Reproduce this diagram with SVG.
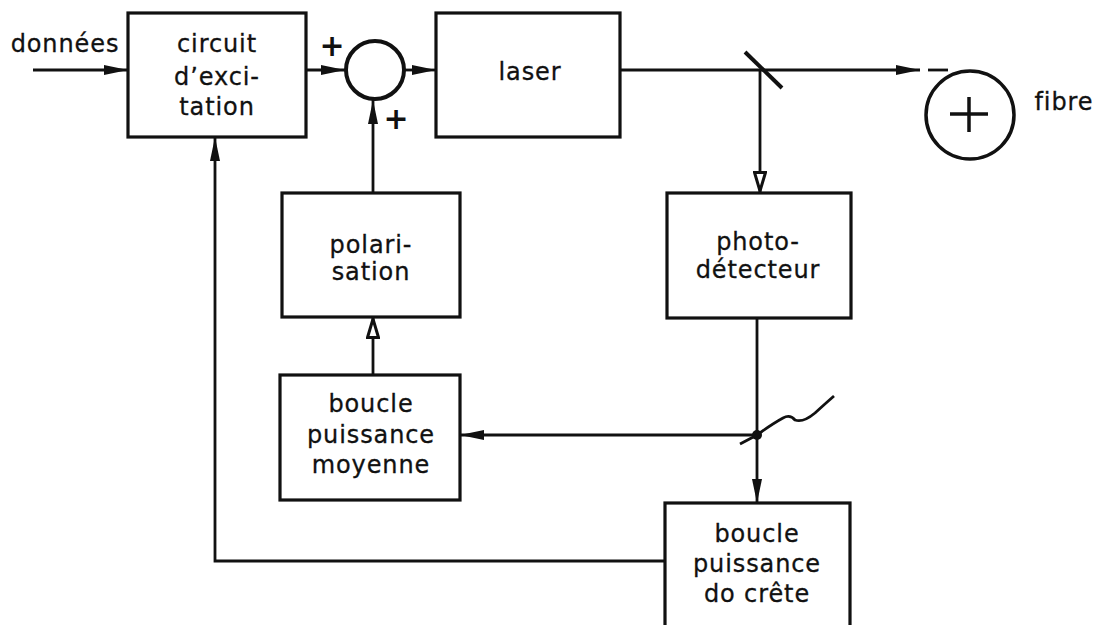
<svg xmlns="http://www.w3.org/2000/svg" width="1102" height="625" viewBox="0 0 1102 625">
<defs>
<marker id="arr" viewBox="0 0 24 12" refX="24" refY="6" markerWidth="24" markerHeight="12" markerUnits="userSpaceOnUse" orient="auto">
<path d="M0,1 L24,6 L0,11 Z" fill="#111"/>
</marker>
<marker id="open" viewBox="0 0 22 14" refX="21" refY="7" markerWidth="22" markerHeight="14" markerUnits="userSpaceOnUse" orient="auto">
<path d="M1.5,1.5 L20,7 L1.5,12.5 Z" fill="#fff" stroke="#111" stroke-width="3"/>
</marker>
</defs>
<style>
.box{fill:#fff;stroke:#111;stroke-width:3.2}
.ln{fill:none;stroke:#111;stroke-width:2.8}
.t{font-family:"DejaVu Sans","Liberation Sans",sans-serif;font-size:24px;fill:#111;text-anchor:middle;letter-spacing:0.9px;stroke:#111;stroke-width:0.3}
.p{font-family:"DejaVu Sans","Liberation Sans",sans-serif;font-size:30px;font-weight:bold;fill:#111;text-anchor:middle}
</style>
<rect width="1102" height="625" fill="#fff"/>
<g id="connectors">
<line class="ln" x1="33" y1="70" x2="128" y2="70" marker-end="url(#arr)"/>
<line class="ln" x1="306" y1="70" x2="345" y2="70" marker-end="url(#arr)"/>
<line class="ln" x1="405" y1="70" x2="436" y2="70" marker-end="url(#arr)"/>
<line class="ln" x1="373" y1="193" x2="373" y2="100" marker-end="url(#arr)"/>
<line class="ln" x1="620" y1="70" x2="920" y2="70" marker-end="url(#arr)"/>
<line class="ln" x1="928" y1="70" x2="948" y2="70"/>
<line x1="745" y1="52" x2="782" y2="88" stroke="#111" stroke-width="4"/>
<line class="ln" x1="760" y1="70" x2="760" y2="192" marker-end="url(#open)"/>
<line class="ln" x1="373" y1="375" x2="373" y2="318" marker-end="url(#open)"/>
<line class="ln" x1="757" y1="318" x2="757" y2="503" marker-end="url(#arr)"/>
<line class="ln" x1="757" y1="435" x2="460" y2="435" marker-end="url(#arr)"/>
<circle cx="757" cy="435" r="5" fill="#111"/>
<path class="ln" d="M740,444 L757,435 Q772,424 783,418 Q790,414 795,420 Q803,423 815,413 Q826,403 834,396" stroke-width="2.2"/>
<polyline class="ln" points="665,561 215,561 215,137" marker-end="url(#arr)"/>
</g>
<g id="donnees"><text class="t" x="65" y="52">données</text></g>
<g id="circuit">
<rect class="box" x="128" y="13" width="178" height="124"/>
<text class="t" x="217" y="52">circuit</text>
<text class="t" x="217" y="85">d’exci-</text>
<text class="t" x="217" y="115">tation</text>
</g>
<g id="somme">
<circle cx="375" cy="70" r="29" fill="#fff" stroke="#111" stroke-width="4"/>
<text class="p" x="332" y="56">+</text>
<text class="p" x="396" y="129">+</text>
</g>
<g id="laser">
<rect class="box" x="436" y="13" width="184" height="124"/>
<text class="t" x="530" y="80">laser</text>
</g>
<g id="fibre">
<circle cx="970" cy="115" r="44" fill="#fff" stroke="#111" stroke-width="3.5"/>
<line x1="950" y1="114" x2="988" y2="114" stroke="#111" stroke-width="3.5"/>
<line x1="969" y1="97" x2="969" y2="132" stroke="#111" stroke-width="3.5"/>
<text class="t" x="1064" y="110">fibre</text>
</g>
<g id="polarisation">
<rect class="box" x="282" y="193" width="178" height="124"/>
<text class="t" x="371" y="253">polari-</text>
<text class="t" x="371" y="280">sation</text>
</g>
<g id="photodetecteur">
<rect class="box" x="667" y="193" width="184" height="125"/>
<text class="t" x="758" y="250">photo-</text>
<text class="t" x="758" y="278">détecteur</text>
</g>
<g id="boucle-moyenne">
<rect class="box" x="280" y="375" width="180" height="125"/>
<text class="t" x="371" y="412">boucle</text>
<text class="t" x="371" y="443">puissance</text>
<text class="t" x="371" y="473">moyenne</text>
</g>
<g id="boucle-crete">
<rect class="box" x="665" y="503" width="185" height="135"/>
<text class="t" x="757" y="542">boucle</text>
<text class="t" x="757" y="572">puissance</text>
<text class="t" x="757" y="602">do crête</text>
</g>
</svg>
